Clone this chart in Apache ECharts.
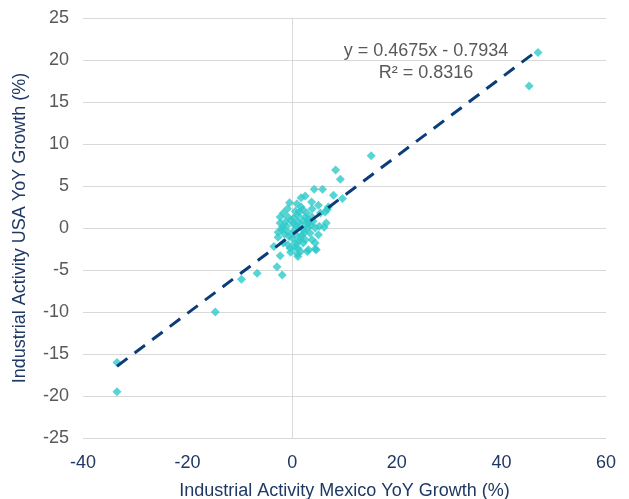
<!DOCTYPE html>
<html>
<head>
<meta charset="utf-8">
<script src="https://cdn.jsdelivr.net/npm/echarts@6/dist/echarts.min.js"></script>
<style>html,body{margin:0;padding:0;background:#fff}#c{width:629px;height:499px}</style>
</head>
<body>
<div id="c"></div>
<script>
// Mexico YoY growth (x) and USA YoY growth (y), in %
const mexico = [47.0,45.3,-33.5,-33.5,-14.7,-9.7,-6.7,-2.9,-1.9,-2.3,-3.5,15.1,8.3,9.2,9.6,7.9,6.9,6.3,
  4.2,5.8,2.5,1.7,-0.5,3.7,5.0,3.8,6.7,1.7,0.6,-1.7,-2.3,-0.8,1.1,2.5,3.8,5.4,-2.3,-1.3,1.1,3.1,6.5,-1.9,1.5,2.9,4.4,
  -2.7,-0.8,0.6,2.3,3.4,5.0,-2.7,0.0,1.5,3.8,0.6,2.1,4.4,-0.8,-0.4,1.1,3.1,4.4,2.9,1.0,1.1,-1.7,-0.3,6.1,4.6,
  0.2,0.8,1.9,2.2,0.4,-0.2,1.3,2.8,0.9,-1.1,-0.6,1.8,3.5,2.6,-1.5,0.3,4.0,5.2,1.2,2.5,-2.0,3.0,0.5,1.6,2.0,-0.9];
const usa = [20.9,16.9,-16.0,-19.5,-10.0,-6.1,-5.4,-4.6,-5.6,-3.3,-2.2,8.6,6.9,5.8,3.5,3.9,2.5,1.9,
  4.6,4.6,3.8,3.6,3.0,3.1,2.7,2.3,2.2,2.5,2.0,1.8,1.3,1.3,1.5,1.3,1.3,1.8,0.6,0.7,0.7,0.6,0.6,0.1,0.1,0.0,0.0,
  -0.5,-0.5,-0.7,-0.6,-0.6,-0.8,-1.1,-1.2,-1.2,-1.4,-1.8,-1.8,-1.8,-2.0,-2.4,-2.4,-2.6,-2.5,-2.8,-3.1,-3.4,-1.8,-2.9,0.1,-2.6,
  0.5,0.3,0.9,-0.2,-0.3,0.9,1.9,1.8,2.9,0.2,-1.0,-0.9,0.3,0.5,-0.7,1.2,0.8,0.2,-1.6,-1.4,-0.2,1.0,-2.3,-2.8,2.2,2.3];
const slope = 0.4675, intercept = -0.7934, r2 = 0.8316;
const xTicks = {min:-40, max:60, interval:20};
const yTicks = {min:-25, max:25, interval:5};

const pts = mexico.map((x,i)=>[x, usa[i]]);
const xmin = Math.min(...mexico), xmax = Math.max(...mexico);
const trend = [[xmin, slope*xmin+intercept],[xmax, slope*xmax+intercept]];
const FONT = 'Liberation Sans, Arial';

const chart = echarts.init(document.getElementById('c'));
chart.setOption({
  animation:false,
  grid:{left:83,right:23,top:18,bottom:61,containLabel:false,outerBoundsMode:'none'},
  xAxis:{type:'value',min:xTicks.min,max:xTicks.max,interval:xTicks.interval,
    name:'Industrial Activity Mexico YoY Growth (%)',nameLocation:'middle',nameGap:44,
    nameTextStyle:{color:'#1F3864',fontSize:18,fontFamily:FONT},
    axisLine:{show:false,onZero:false},axisTick:{show:false},splitLine:{show:false},
    axisLabel:{color:'#1F3864',fontSize:18,margin:16,fontFamily:FONT}},
  yAxis:{type:'value',min:yTicks.min,max:yTicks.max,interval:yTicks.interval,
    name:'Industrial Activity USA YoY Growth (%)',nameLocation:'middle',nameGap:54,
    nameTextStyle:{color:'#1F3864',fontSize:18,fontFamily:FONT},
    axisLine:{show:false,onZero:false},axisTick:{show:false},
    splitLine:{lineStyle:{color:'#D9D9D9',width:1}},
    axisLabel:{color:'#595959',fontSize:18,margin:14,fontFamily:FONT}},
  series:[
    {type:'scatter',data:pts,symbol:'diamond',symbolSize:9,itemStyle:{color:'#2EC9C9'},z:2,
      markLine:{silent:true,symbol:'none',label:{show:false},lineStyle:{color:'#D9D9D9',width:1,type:'solid'},
        data:[{xAxis:0}],z:1}},
    {type:'line',data:trend,symbol:'none',z:3,
      lineStyle:{color:'#0B3D7A',width:3,type:[13,9]}}
  ],
  graphic:[{type:'text',style:{
    text:'y = '+slope+'x - '+Math.abs(intercept)+'\nR² = '+r2,
    x:426,y:40,textAlign:'center',fill:'#595959',fontSize:18,lineHeight:22,
    fontFamily:FONT}}]
});
</script>
</body>
</html>
